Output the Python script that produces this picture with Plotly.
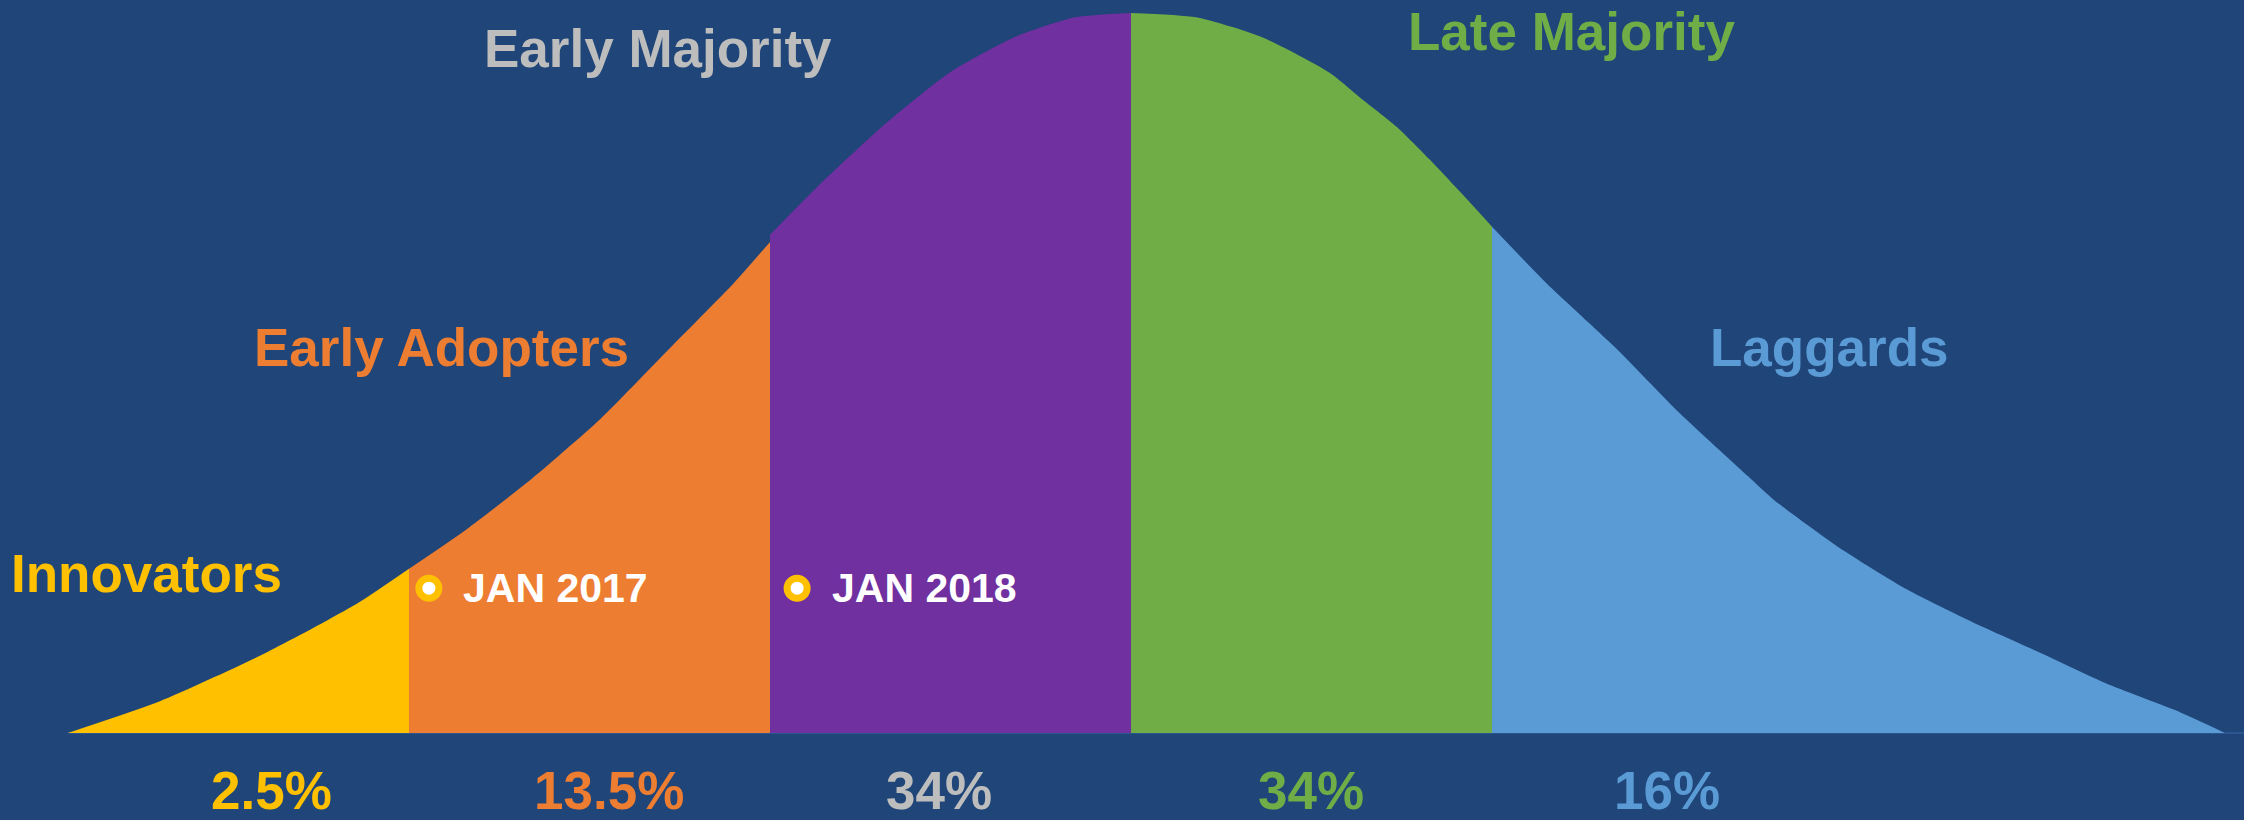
import plotly.graph_objects as go

# ---- data (x in standard deviations from the mean, y = relative height of the bell) ----
categories = ["Innovators", "Early Adopters", "Early Majority", "Late Majority", "Laggards"]
shares = ["2.5%", "13.5%", "34%", "34%", "16%"]

innovators_x = [-2.945, -2.69, -2.413, -2.227, -2.136, -2.0]
innovators_y = [0.0, 0.044, 0.107, 0.156, 0.182, 0.228]

early_adopters_x = [-2.0, -1.84, -1.66, -1.47, -1.29, -1.10, -1.0]
early_adopters_y = [0.228, 0.283, 0.353, 0.436, 0.528, 0.625, 0.682]

early_majority_x = [-1.0, -0.87, -0.69, -0.50, -0.32, -0.155, 0.0]
early_majority_y = [0.692, 0.758, 0.842, 0.918, 0.967, 0.994, 1.0]

late_majority_x = [0.0, 0.18, 0.36, 0.55, 0.643, 0.74, 0.828, 0.92, 1.0]
late_majority_y = [1.0, 0.994, 0.967, 0.917, 0.879, 0.840, 0.796, 0.747, 0.703]

laggards_x = [1.0, 1.15, 1.34, 1.52, 1.71, 1.78, 1.96, 2.15, 2.33, 2.52, 2.70, 2.89, 3.03]
laggards_y = [0.703, 0.625, 0.536, 0.444, 0.356, 0.324, 0.258, 0.199, 0.154, 0.111, 0.069, 0.032, 0.0]

milestones = ["JAN 2017", "JAN 2018"]
milestone_x = [-1.945, -0.925]
milestone_y = [0.201, 0.201]

# ---- styling / positions ----
BG = "#1F4579"
seg_colors = ["#FFC000", "#ED7D31", "#7030A0", "#70AD47", "#5B9BD5"]
label_colors = ["#FFC000", "#ED7D31", "#BDBDBD", "#70AD47", "#5B9BD5"]
FONT = "Liberation Sans, Arial, sans-serif"

name_pos = [(-2.726, 0.222), (-1.909, 0.535), (-1.310, 0.950), (1.219, 0.974), (1.934, 0.536)]
share_pos_x = [-2.380, -1.446, -0.532, 0.499, 1.485]
share_pos_y = -0.080

segments = [
    (innovators_x, innovators_y),
    (early_adopters_x, early_adopters_y),
    (early_majority_x, early_majority_y),
    (late_majority_x, late_majority_y),
    (laggards_x, laggards_y),
]

fig = go.Figure()
for (xs, ys), col, name in zip(segments, seg_colors, categories):
    fig.add_trace(go.Scatter(
        x=xs, y=ys, mode="lines", name=name,
        line=dict(color=col, width=0, shape="spline", smoothing=0.6),
        fill="tozeroy", fillcolor=col, hoverinfo="skip", showlegend=False,
    ))

# faint baseline under the curve
fig.add_shape(type="line", xref="x", yref="y", x0=innovators_x[0], x1=3.083, y0=0, y1=0,
              line=dict(color="#2B568F", width=2), layer="below")

# milestone markers
fig.add_trace(go.Scatter(
    x=milestone_x, y=milestone_y, mode="markers",
    marker=dict(size=20, color="white", line=dict(color="#FFC000", width=7)),
    hoverinfo="skip", showlegend=False,
))

annotations = []
for name, (x, y), col in zip(categories, name_pos, label_colors):
    annotations.append(dict(x=x, y=y, text=name, showarrow=False,
                            font=dict(family=FONT, size=53, color=col, weight="bold"),
                            xanchor="center", yanchor="middle"))
for s, x, col in zip(shares, share_pos_x, label_colors):
    annotations.append(dict(x=x, y=share_pos_y, text=s, showarrow=False,
                            font=dict(family=FONT, size=53, color=col, weight="bold"),
                            xanchor="center", yanchor="middle"))
for m, x, y in zip(milestones, milestone_x, milestone_y):
    annotations.append(dict(x=x + 0.09, y=y, text=m, showarrow=False,
                            font=dict(family=FONT, size=41, color="white", weight="bold"),
                            xanchor="left", yanchor="middle"))

fig.update_layout(
    width=2244, height=820,
    margin=dict(l=0, r=0, t=0, b=0),
    paper_bgcolor=BG, plot_bgcolor=BG,
    xaxis=dict(range=[-3.133, 3.083], visible=False, fixedrange=True),
    yaxis=dict(range=[-0.121, 1.018], visible=False, fixedrange=True),
    annotations=annotations,
    showlegend=False,
)

fig.write_html(
    "out.html",
    config={"displayModeBar": False},
    post_script="document.body.style.margin='0';document.body.style.overflow='hidden';document.body.style.background='#1F4579';",
)
